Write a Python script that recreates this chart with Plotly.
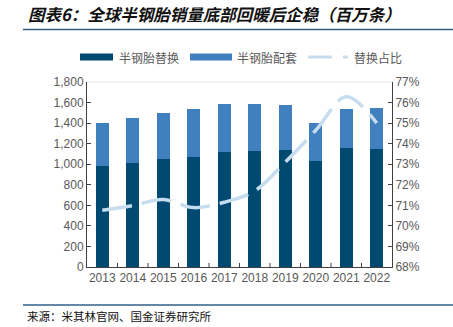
import plotly.graph_objects as go

years = ["2013", "2014", "2015", "2016", "2017", "2018", "2019", "2020", "2021", "2022"]
replacement = [980, 1012, 1051, 1074, 1119, 1126, 1142, 1029, 1158, 1148]
total = [1405, 1450, 1496, 1535, 1586, 1586, 1580, 1398, 1535, 1547]
oe = [t - r for t, r in zip(total, replacement)]
share = [70.76, 70.99, 71.28, 70.89, 71.15, 71.7, 73.1, 74.65, 76.28, 75.0]
share_frac = [s / 100 for s in share]
names = ["半钢胎替换", "半钢胎配套", "替换占比"]

W, H = 453, 327
L, R, T, B = 87, 392, 82, 267


def px(x):
    return (x - L) / (R - L)


def py(y):
    return (B - y) / (B - T)


DARK = "#004a72"
LIGHT = "#4080be"
LINEC = "#c6dcef"
TICKC = "#595959"
FONT = "Liberation Sans, Arial, sans-serif"
CJK = "Noto Sans CJK SC"

fig = go.Figure()
fig.add_trace(go.Bar(x=years, y=replacement, name=names[0], marker_color=DARK,
                     marker_line_width=0))
fig.add_trace(go.Bar(x=years, y=oe, name=names[1], marker_color=LIGHT,
                     marker_line_width=0))
fig.add_trace(go.Scatter(x=years, y=share_frac, name=names[2], yaxis="y2",
                         mode="lines",
                         line=dict(color=LINEC, width=3.5, shape="spline",
                                   smoothing=1.0, dash="30px,10px")))

fig.update_layout(
    width=W, height=H,
    margin=dict(l=L, r=W - R, t=T, b=H - B),
    paper_bgcolor="white", plot_bgcolor="white",
    barmode="stack", bargap=0.57,
    showlegend=False,
    font=dict(family=FONT, size=12, color=TICKC),
    xaxis=dict(showline=True, linecolor="#404040", linewidth=1,
               ticks="", tickfont=dict(family=FONT, size=12, color=TICKC),
               showgrid=False, range=[-0.5, 9.5]),
    yaxis=dict(range=[0, 1800], dtick=200, tickformat=",", showline=True,
               linecolor="#404040", linewidth=1, ticks="inside", ticklen=4,
               tickcolor="#404040", showgrid=False, zeroline=False,
               tickfont=dict(family=FONT, size=12, color=TICKC)),
    yaxis2=dict(range=[0.68, 0.77], dtick=0.01, tickformat=".0%", overlaying="y",
                side="right", showline=True, linecolor="#404040", linewidth=1,
                ticks="inside", ticklen=4, tickcolor="#404040", showgrid=False,
                zeroline=False, tickfont=dict(family=FONT, size=12, color=TICKC)),
)

# x-axis category boundary ticks (pointing up)
for i in range(1, 10):
    fig.add_shape(type="line", xref="x", yref="paper", x0=i - 0.5, x1=i - 0.5,
                  y0=0, y1=py(B - 4), line=dict(color="#404040", width=1))
# faint top border of plot
fig.add_shape(type="line", xref="paper", yref="paper", x0=0, x1=1, y0=1, y1=1,
              line=dict(color="#e6e6e6", width=1))

# custom legend
fig.add_shape(type="rect", xref="paper", yref="paper", x0=px(80), x1=px(113),
              y0=py(60.5), y1=py(53.5), fillcolor=DARK, line_width=0)
fig.add_shape(type="rect", xref="paper", yref="paper", x0=px(190), x1=px(232),
              y0=py(60.5), y1=py(53.5), fillcolor=LIGHT, line_width=0)
fig.add_shape(type="line", xref="paper", yref="paper", x0=px(308), x1=px(332),
              y0=py(57), y1=py(57), line=dict(color=LINEC, width=3))
fig.add_shape(type="line", xref="paper", yref="paper", x0=px(343), x1=px(348),
              y0=py(57), y1=py(57), line=dict(color=LINEC, width=3))
for xpos, nm in zip([117, 235, 352], names):
    fig.add_annotation(text=nm, xref="paper", yref="paper", x=px(xpos), y=py(57),
                       xanchor="left", yanchor="middle", showarrow=False,
                       font=dict(family=CJK, size=12, color=TICKC))

# title and rules
fig.add_annotation(text="<b><i>图表6：全球半钢胎销量底部回暖后企稳（百万条）</i></b>",
                   xref="paper", yref="paper", x=px(26), y=py(14), xanchor="left",
                   yanchor="middle", showarrow=False,
                   font=dict(family=CJK, size=16.5, color="#111111"))
fig.add_shape(type="line", xref="paper", yref="paper", x0=px(23), x1=px(453),
              y0=py(29.5), y1=py(29.5), line=dict(color="#2f5f86", width=1.5))
fig.add_shape(type="line", xref="paper", yref="paper", x0=px(23), x1=px(453),
              y0=py(305), y1=py(305), line=dict(color="#2f5f86", width=1.5))
fig.add_annotation(text="来源：米其林官网、国金证券研究所",
                   xref="paper", yref="paper", x=px(25), y=py(316), xanchor="left",
                   yanchor="middle", showarrow=False,
                   font=dict(family=CJK, size=11.5, color="#111111"))

fig.write_html("out.html")
